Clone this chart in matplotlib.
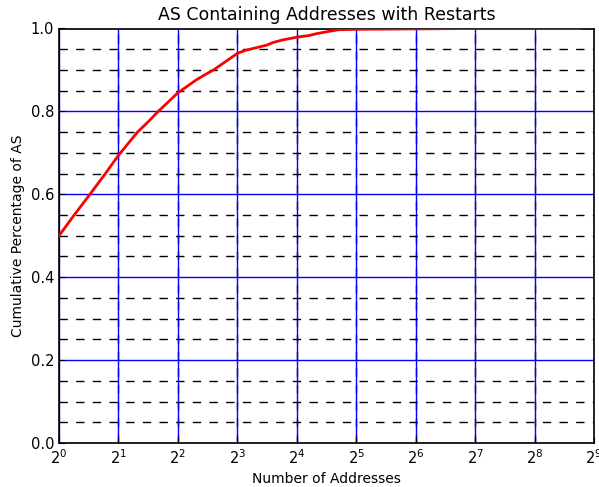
import numpy as np
import matplotlib
matplotlib.use('Agg')
import matplotlib.pyplot as plt
from matplotlib.ticker import LogLocator, LogFormatterMathtext, MultipleLocator

num_addresses = [1, 1.181, 1.424, 1.705, 2, 2.497, 2.83, 3.18, 3.58, 4, 4.44, 4.92,
                 5.46, 6.06, 6.73, 7.21, 8, 8.75, 9.65, 11.3, 12.1, 13.45, 16, 18.4,
                 20.4, 22.6, 26, 32, 64, 128, 430]
cum_pct = [0.50, 0.547, 0.598, 0.648, 0.694, 0.75, 0.775, 0.80, 0.823, 0.845, 0.86, 0.875,
           0.888, 0.90, 0.915, 0.925, 0.94, 0.947, 0.952, 0.960, 0.966, 0.972, 0.979,
           0.983, 0.988, 0.992, 0.997, 0.998, 0.999, 1.0, 1.0]

fig = plt.figure(figsize=(5.99, 4.87), dpi=100)
ax = fig.add_axes([59 / 599, 1 - 443 / 487, (594 - 59) / 599, (443 - 28.5) / 487])

ax.plot(num_addresses, cum_pct, color='red', linewidth=2, zorder=5)

ax.set_xscale('log', base=2)
ax.set_xlim(1, 2 ** 9)
ax.set_ylim(0, 1)
ax.xaxis.set_major_locator(LogLocator(base=2, numticks=20))
ax.xaxis.set_major_formatter(LogFormatterMathtext(base=2))
ax.xaxis.set_minor_locator(plt.NullLocator())
ax.yaxis.set_major_locator(MultipleLocator(0.2))
ax.yaxis.set_minor_locator(MultipleLocator(0.05))

# major grid blue solid, minor grid black dashed
ax.grid(True, which='major', color='blue', linestyle='-', linewidth=1)
ax.grid(True, which='minor', axis='y', color='black', linestyle='--', linewidth=1, dashes=(6, 6))
for e in range(1, 9):
    ax.axvline(2 ** e, color='black', linestyle='--', linewidth=1, dashes=(6, 6), zorder=1.5)

ax.tick_params(which='both', direction='in', labelsize=10.5, length=4)
ax.tick_params(which='minor', length=2)
for s in ax.spines.values():
    s.set_linewidth(1.2)

ax.set_title('AS Containing Addresses with Restarts', fontsize=12.5)
ax.set_xlabel('Number of Addresses', fontsize=10)
ax.set_ylabel('Cumulative Percentage of AS', fontsize=10)

fig.savefig('out.png', dpi=100)
